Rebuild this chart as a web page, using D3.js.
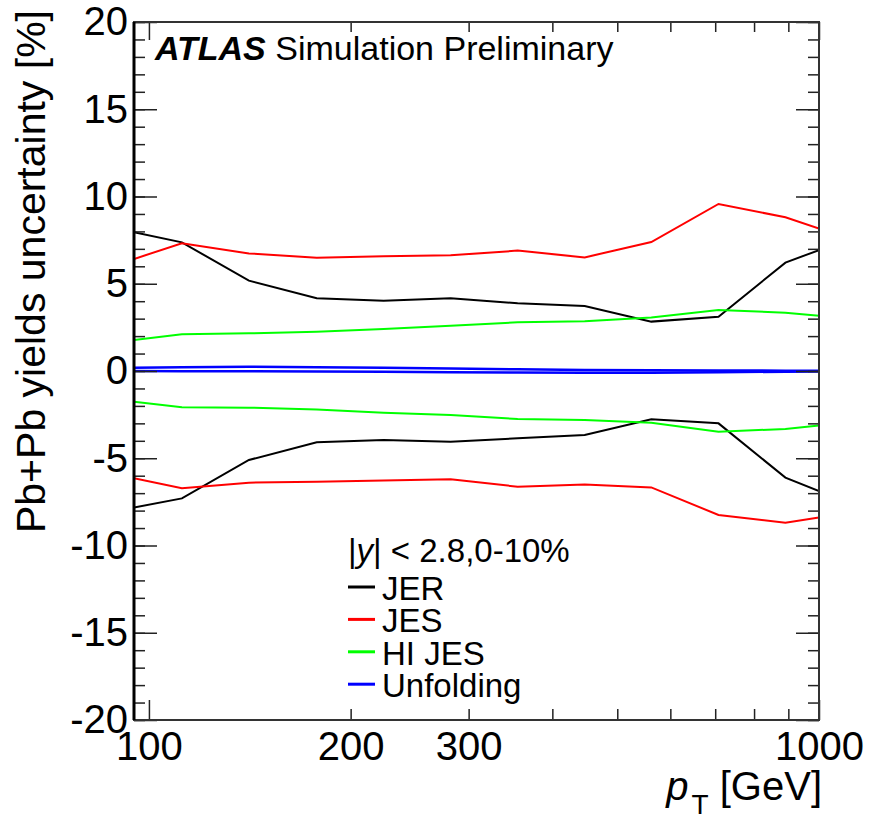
<!DOCTYPE html>
<html>
<head>
<meta charset="utf-8">
<script src="https://cdn.jsdelivr.net/npm/d3@7"></script>
<style>
  body { margin: 0; background: #fff; }
  text { font-family: "Liberation Sans", Arial, Helvetica, sans-serif; }
</style>
</head>
<body>
<script>
/* pT bins (GeV) and uncertainties (%) */
var ptBins = [95, 112, 141, 178, 224, 282, 355, 447, 562, 708, 891, 1000];
var jerUp = [7.95, 7.37, 5.18, 4.17, 4.03, 4.17, 3.88, 3.72, 2.83, 3.11, 6.21, 6.93];
var jerDown = [-7.83, -7.30, -5.10, -4.09, -3.95, -4.05, -3.86, -3.67, -2.77, -3.0, -6.11, -6.88];
var jesUp = [6.42, 7.32, 6.74, 6.49, 6.57, 6.63, 6.9, 6.51, 7.39, 9.57, 8.81, 8.16];
var jesDown = [-6.15, -6.72, -6.40, -6.34, -6.28, -6.21, -6.63, -6.50, -6.67, -8.25, -8.69, -8.39];
var hiJesUp = [1.78, 2.10, 2.16, 2.25, 2.41, 2.60, 2.79, 2.85, 3.06, 3.50, 3.34, 3.17];
var hiJesDown = [-1.76, -2.08, -2.10, -2.20, -2.39, -2.52, -2.75, -2.81, -2.96, -3.48, -3.32, -3.13];
var unfUp = [0.18, 0.22, 0.25, 0.22, 0.18, 0.14, 0.1, 0.06, 0.04, 0.03, 0.02, 0.02];
var unfDown = [0, -0.01, -0.02, -0.03, -0.05, -0.07, -0.09, -0.1, -0.1, -0.07, -0.04, -0.03];

var xTickLabels = [100, 200, 300, 1000];
var xMinorTicks = [200, 300, 400, 500, 600, 700, 800, 900];
var yTickLabels = [-20, -15, -10, -5, 0, 5, 10, 15, 20];

var legendNames = ["JER", "JES", "HI JES", "Unfolding"];
var legendColors = ["#000000", "#ff0000", "#00ff00", "#0000ff"];

var widthMax = 869;
var heightMax = 839;
var plotLeft = 134, plotRight = 819, plotTop = 22, plotBottom = 720;

var svg = d3.select("body").append("svg")
	.attr("width", widthMax)
	.attr("height", heightMax);

var x = d3.scaleLog().domain([95, 1000]).range([plotLeft, plotRight]);
var y = d3.scaleLinear().domain([-20, 20]).range([plotBottom, plotTop]);

// plain hyphen like ROOT, not the unicode minus
var plainFormat = function(d) { return String(d); };

svg.append("clipPath").attr("id", "frame")
	.append("rect")
	.attr("x", plotLeft).attr("y", plotTop)
	.attr("width", plotRight - plotLeft).attr("height", plotBottom - plotTop);

/* curves */
var line = d3.line()
	.x(function(d, i) { return x(ptBins[i]); })
	.y(function(d) { return y(d); });

var curves = [
	[jerUp, 0], [jerDown, 0],
	[jesUp, 1], [jesDown, 1],
	[hiJesUp, 2], [hiJesDown, 2],
	[unfUp, 3], [unfDown, 3]
];

var plot = svg.append("g").attr("clip-path", "url(#frame)");
curves.forEach(function(c) {
	plot.append("path")
		.datum(c[0])
		.attr("d", line)
		.attr("fill", "none")
		.attr("stroke", legendColors[c[1]])
		.attr("stroke-width", c[1] == 3 ? 2.5 : 2);
});

/* y axis, left with labels + right mirror */
var yMinor = d3.range(-20, 21, 1);

svg.append("g")
	.attr("transform", "translate(" + plotLeft + ",0)")
	.call(d3.axisLeft(y).tickValues(yMinor).tickSize(-11).tickFormat(""))
	.call(function(g) { g.select(".domain").remove(); });

var yAxis = svg.append("g")
	.attr("transform", "translate(" + plotLeft + ",0)")
	.call(d3.axisLeft(y).tickValues(yTickLabels).tickSize(-23).tickPadding(6).tickFormat(plainFormat));
yAxis.select(".domain").remove();
yAxis.selectAll("text")
	.attr("font-size", 40)
	.attr("fill", "#000")
	.attr("font-family", "'Liberation Sans', Arial, sans-serif");

svg.append("g")
	.attr("transform", "translate(" + plotRight + ",0)")
	.call(d3.axisRight(y).tickValues(yMinor).tickSize(-11).tickFormat(""))
	.call(function(g) { g.select(".domain").remove(); });
svg.append("g")
	.attr("transform", "translate(" + plotRight + ",0)")
	.call(d3.axisRight(y).tickValues(yTickLabels).tickSize(-23).tickFormat(""))
	.call(function(g) { g.select(".domain").remove(); });

/* x axis, bottom with labels + top mirror */
svg.append("g")
	.attr("transform", "translate(0," + plotBottom + ")")
	.call(d3.axisBottom(x).tickValues(xMinorTicks).tickSize(-11).tickFormat(""))
	.call(function(g) { g.select(".domain").remove(); });
svg.append("g")
	.attr("transform", "translate(0," + plotBottom + ")")
	.call(d3.axisBottom(x).tickValues([100, 1000]).tickSize(-20).tickFormat(""))
	.call(function(g) { g.select(".domain").remove(); });

var xAxis = svg.append("g")
	.attr("transform", "translate(0," + plotBottom + ")")
	.call(d3.axisBottom(x).tickValues(xTickLabels).tickSize(0).tickPadding(12).tickFormat(plainFormat));
xAxis.select(".domain").remove();
xAxis.selectAll("text")
	.attr("font-size", 40)
	.attr("fill", "#000")
	.attr("font-family", "'Liberation Sans', Arial, sans-serif");

svg.append("g")
	.attr("transform", "translate(0," + plotTop + ")")
	.call(d3.axisTop(x).tickValues(xMinorTicks).tickSize(-10).tickFormat(""))
	.call(function(g) { g.select(".domain").remove(); });
svg.append("g")
	.attr("transform", "translate(0," + plotTop + ")")
	.call(d3.axisTop(x).tickValues([100, 1000]).tickSize(-18).tickFormat(""))
	.call(function(g) { g.select(".domain").remove(); });

svg.selectAll(".tick line").attr("stroke", "#222").attr("stroke-width", 1.5);

/* frame */
svg.append("rect")
	.attr("x", plotLeft).attr("y", plotTop)
	.attr("width", plotRight - plotLeft).attr("height", plotBottom - plotTop)
	.attr("fill", "none")
	.attr("stroke", "#333")
	.attr("stroke-width", 2);
svg.append("line")
	.attr("x1", plotLeft).attr("y1", plotTop)
	.attr("x2", plotLeft).attr("y2", plotBottom)
	.attr("stroke", "#000")
	.attr("stroke-width", 3);

/* axis titles */
svg.append("text")
	.attr("transform", "translate(45,10) rotate(-90)")
	.attr("text-anchor", "end")
	.attr("font-size", 41)
	.text("Pb+Pb yields uncertainty [%]");

var xTitle = svg.append("text")
	.attr("x", 822).attr("y", 800)
	.attr("text-anchor", "end")
	.attr("font-size", 40);
xTitle.append("tspan").attr("font-style", "italic").text("p");
xTitle.append("tspan").attr("font-size", 28).attr("dx", 3).attr("dy", 14).text("T");
xTitle.append("tspan").attr("dy", -14).text(" [GeV]");

/* ATLAS label */
var atlas = svg.append("text")
	.attr("x", 155).attr("y", 60)
	.attr("font-size", 34);
atlas.append("tspan").attr("font-weight", "bold").attr("font-style", "italic").text("ATLAS");
atlas.append("tspan").text(" Simulation Preliminary");

/* legend */
var header = svg.append("text")
	.attr("x", 348).attr("y", 562)
	.attr("font-size", 33);
header.append("tspan").text("|");
header.append("tspan").attr("font-style", "italic").text("y");
header.append("tspan").text("| < 2.8,0-10%");

legendNames.forEach(function(name, i) {
	var yy = 600 + i * 32.4;
	svg.append("line")
		.attr("x1", 348).attr("x2", 375)
		.attr("y1", yy - 13).attr("y2", yy - 13)
		.attr("stroke", legendColors[i])
		.attr("stroke-width", 3);
	svg.append("text")
		.attr("x", 382).attr("y", yy)
		.attr("font-size", 33)
		.text(name);
});
</script>
</body>
</html>
